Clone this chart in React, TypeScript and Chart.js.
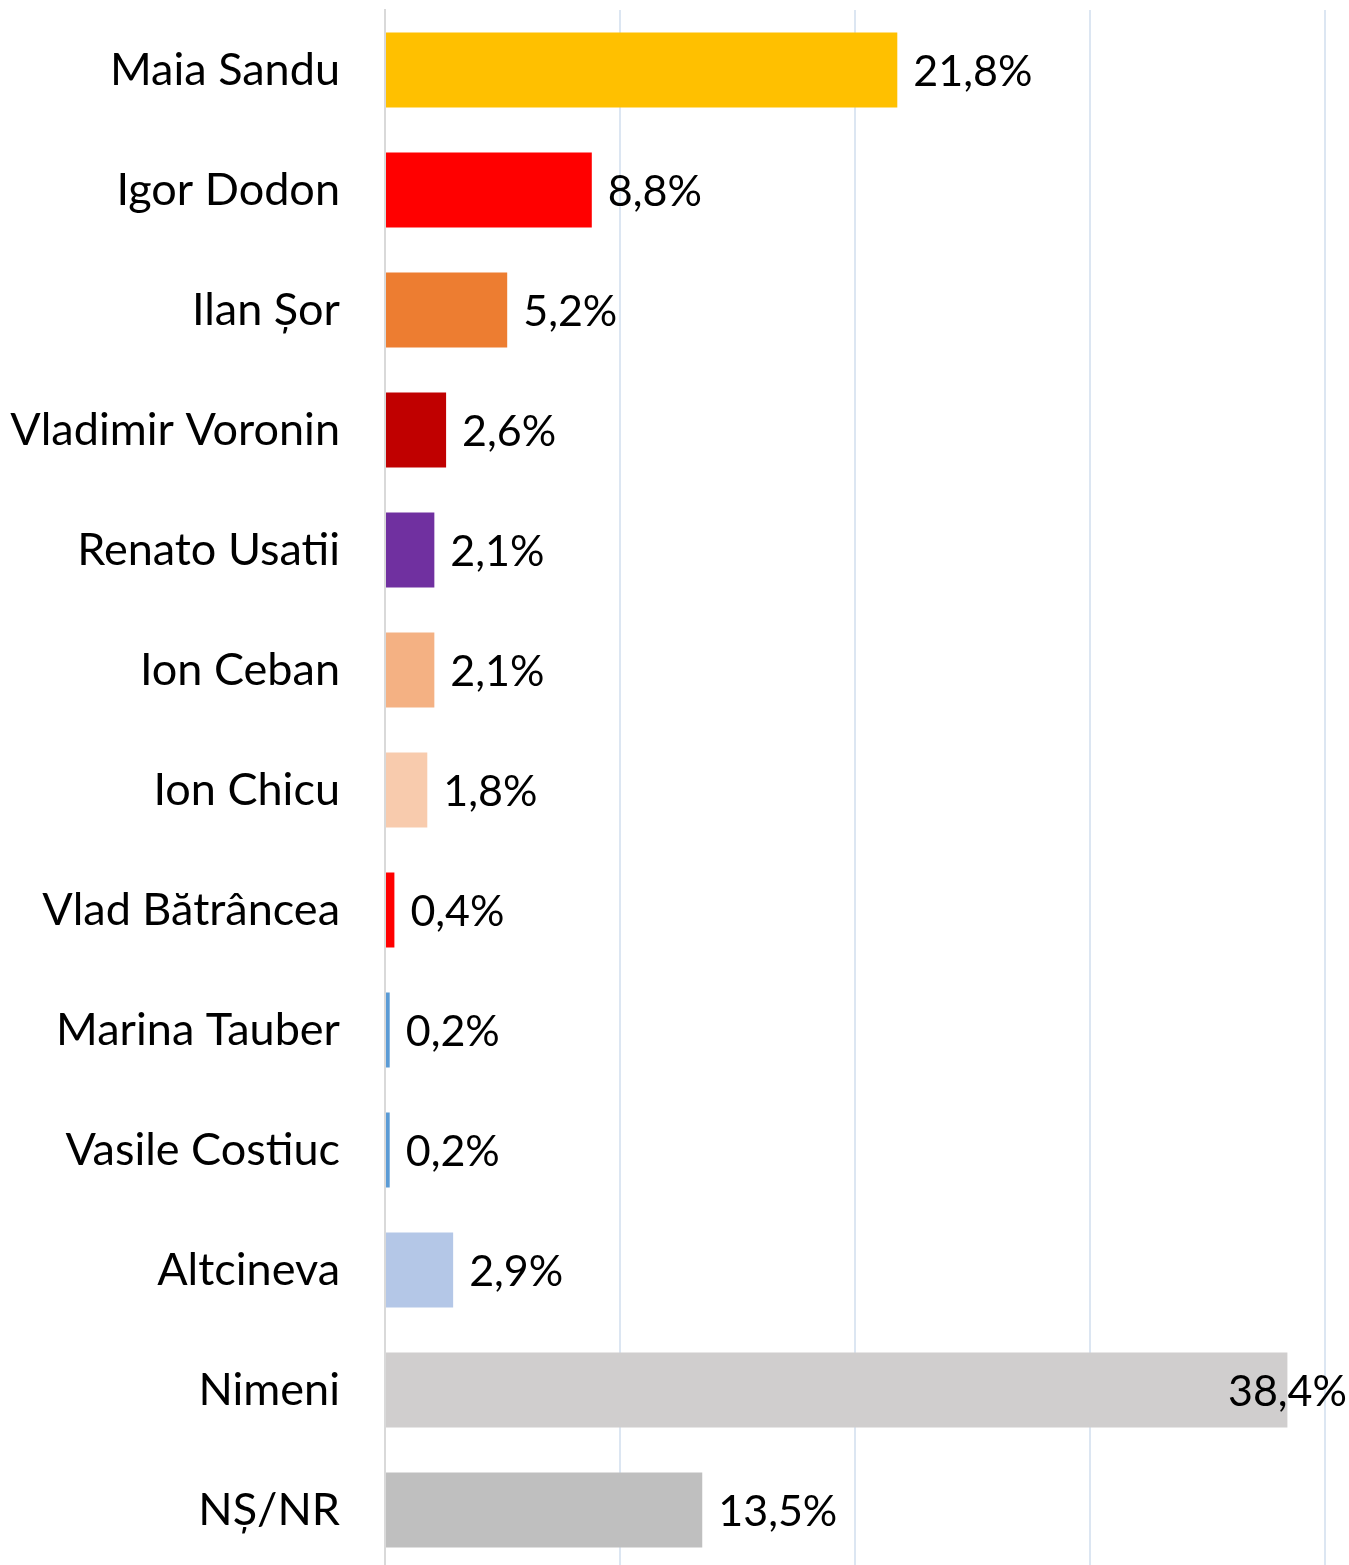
import React, { useEffect, useRef } from "react";
import { Chart, registerables } from "chart.js";

Chart.register(...registerables);

const categories = [
  "Maia Sandu",
  "Igor Dodon",
  "Ilan Șor",
  "Vladimir Voronin",
  "Renato Usatii",
  "Ion Ceban",
  "Ion Chicu",
  "Vlad Bătrâncea",
  "Marina Tauber",
  "Vasile Costiuc",
  "Altcineva",
  "Nimeni",
  "NȘ/NR",
];

const values = [21.8, 8.8, 5.2, 2.6, 2.1, 2.1, 1.8, 0.4, 0.2, 0.2, 2.9, 38.4, 13.5];

const barColors = [
  "#FFC000",
  "#FF0000",
  "#ED7D31",
  "#C00000",
  "#7030A0",
  "#F4B183",
  "#F8CBAD",
  "#FF0000",
  "#5B9BD5",
  "#5B9BD5",
  "#B4C7E7",
  "#D0CECE",
  "#BFBFBF",
];

const axisMax = 40;
const axisStep = 10;

const FONT = "Lato";

const labelPlugin = {
  id: "valueLabels",
  afterDatasetsDraw(chart: any) {
    const { ctx } = chart;
    const meta = chart.getDatasetMeta(0);
    ctx.save();
    ctx.font = `43px ${FONT}`;
    ctx.fillStyle = "#000";
    ctx.textBaseline = "middle";
    ctx.textAlign = "left";
    meta.data.forEach((bar: any, i: number) => {
      const txt = values[i].toFixed(1).replace(".", ",") + "%";
      const w = ctx.measureText(txt).width;
      let x = bar.x + 16;
      if (x + w > chart.width - 2) x = chart.width - 2 - w;
      ctx.fillText(txt, x, bar.y + 2);
    });
    ctx.restore();
  },
};

export default function App() {
  const ref = useRef<HTMLCanvasElement | null>(null);
  useEffect(() => {
    if (!ref.current) return;
    const chart = new Chart(ref.current, {
      type: "bar",
      data: {
        labels: categories,
        datasets: [
          {
            data: values,
            backgroundColor: barColors,
            borderWidth: 0,
            barPercentage: 0.625,
            categoryPercentage: 1,
          },
        ],
      },
      options: {
        indexAxis: "y",
        responsive: false,
        animation: false,
        layout: { padding: { top: 10, right: 24, left: 0, bottom: 0 } },
        plugins: { legend: { display: false }, tooltip: { enabled: false } },
        scales: {
          x: {
            min: 0,
            max: axisMax,
            ticks: { display: false, stepSize: axisStep },
            grid: {
              color: (c: any) => (c.tick && c.tick.value === 0 ? "rgba(0,0,0,0)" : "#DCE6F2"),
              lineWidth: 2,
              drawTicks: false,
            },
            border: { display: false },
            afterFit: (s: any) => {
              s.height = 0;
              s.paddingLeft = 0;
              s.paddingRight = 0;
            },
          },
          y: {
            ticks: {
              color: "#000",
              font: { family: FONT, size: 45 },
              padding: 45,
            },
            grid: { display: false, drawTicks: false },
            border: { display: true, color: "#D9D9D9", width: 2 },
            afterFit: (s: any) => {
              s.width = 385;
              s.paddingTop = 0;
              s.paddingBottom = 0;
            },
          },
        },
      },
      plugins: [labelPlugin],
    });
    return () => chart.destroy();
  }, []);
  return (
    <div
      style={{
        position: "fixed",
        left: 0,
        top: 0,
        width: 1349,
        height: 1565,
        overflow: "hidden",
        background: "#fff",
      }}
    >
      <canvas ref={ref} width={1349} height={1570} style={{ display: "block" }} />
    </div>
  );
}
